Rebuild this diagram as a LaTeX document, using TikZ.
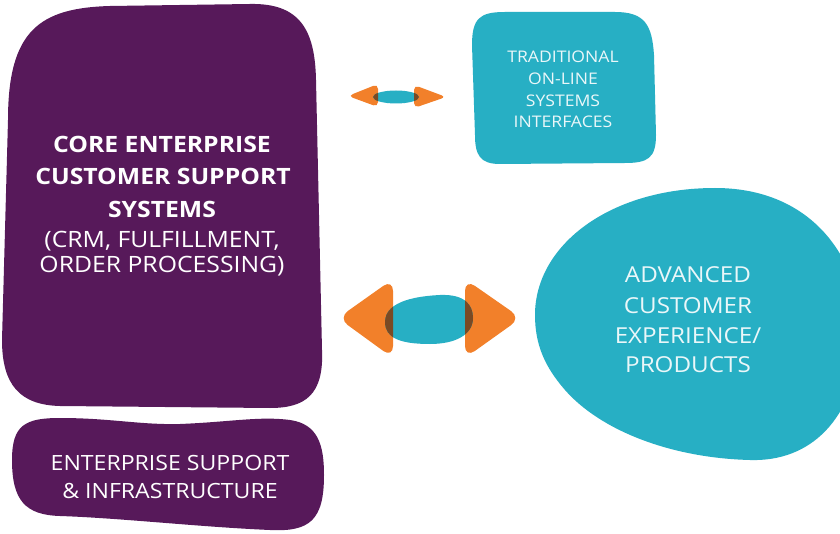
\documentclass[tikz,border=0pt]{standalone}
\usepackage{fontspec}
\setmainfont{Open Sans}[FakeStretch=1.1]
\definecolor{purp}{HTML}{57195A}
\definecolor{teal}{HTML}{27AFC4}
\definecolor{orng}{HTML}{F2802A}
\definecolor{brwn}{HTML}{7A4A24}
\definecolor{paletext}{HTML}{EAF7F9}
\tikzset{
  blobtext/.style={text=white, anchor=base, inner sep=0pt},
  tealtext/.style={text=paletext, anchor=base, inner sep=0pt},
  arrowhead/.style={fill=orng, rounded corners=#1},
}
\begin{document}
\begin{tikzpicture}[x=1pt,y=-1pt]
\useasboundingbox (0,0) rectangle (840,534);
\clip (0,0) rectangle (840,534);
\fill[white] (0,0) rectangle (840,534);

% core purple blob
\fill[purp] (8,120) .. controls (8,30) and (40,8) .. (110,6) -- (250,4)
  .. controls (300,3) and (315,30) .. (316,80) -- (322,350)
  .. controls (324,395) and (305,408) .. (270,408) -- (60,406)
  .. controls (20,405) and (2,385) .. (2,340) -- cycle;
\begin{scope}[font=\fontsize{22.5}{30}\selectfont]
\node[blobtext] (core1) at (162,153) {\textbf{CORE ENTERPRISE}};
\node[blobtext] (core2) at (163,185) {\textbf{CUSTOMER SUPPORT}};
\node[blobtext] (core3) at (162,218) {\textbf{SYSTEMS}};
\node[blobtext] (core4) at (162,248) {(CRM, FULFILLMENT,};
\node[blobtext] (core5) at (162,273) {ORDER PROCESSING)};
\end{scope}

% bottom purple blob
\fill[purp] (12,460) .. controls (12,425) and (25,418) .. (60,418)
  .. controls (110,418) and (140,425) .. (180,424)
  .. controls (230,422) and (260,416) .. (290,420)
  .. controls (318,424) and (324,445) .. (324,475)
  .. controls (324,520) and (310,532) .. (270,530)
  .. controls (200,527) and (120,518) .. (60,516)
  .. controls (25,515) and (12,500) .. (12,460) -- cycle;
\begin{scope}[font=\fontsize{21}{28}\selectfont]
\node[blobtext] (support1) at (170,470) {ENTERPRISE SUPPORT};
\node[blobtext] (support2) at (170,498) {\& INFRASTRUCTURE};
\end{scope}

% traditional teal box
\fill[teal] (472,45) .. controls (472,18) and (480,12) .. (505,12) -- (615,12)
  .. controls (645,12) and (652,25) .. (654,55) -- (656,135)
  .. controls (656,158) and (648,163) .. (625,163) -- (500,164)
  .. controls (480,164) and (475,155) .. (475,135) -- cycle;
\begin{scope}[font=\fontsize{16}{21.5}\selectfont]
\node[tealtext] (trad1) at (563,63) {TRADITIONAL};
\node[tealtext] (trad2) at (563,85) {ON-LINE};
\node[tealtext] (trad3) at (563,107) {SYSTEMS};
\node[tealtext] (trad4) at (563,128) {INTERFACES};
\end{scope}

% advanced teal blob
\fill[teal] (535,315) .. controls (535,245) and (610,188) .. (715,188)
  .. controls (820,188) and (865,270) .. (860,340)
  .. controls (855,420) and (810,462) .. (750,460)
  .. controls (670,458) and (600,430) .. (565,390)
  .. controls (545,367) and (535,345) .. (535,315) -- cycle;
\begin{scope}[font=\fontsize{22}{30}\selectfont]
\node[tealtext] (adv1) at (688,283) {ADVANCED};
\node[tealtext] (adv2) at (688,313) {CUSTOMER};
\node[tealtext] (adv3) at (688,343) {EXPERIENCE/};
\node[tealtext] (adv4) at (688,372) {PRODUCTS};
\end{scope}

% small double arrow
\fill[arrowhead=5] (348,96) -- (378,84) -- (378,107) -- cycle;
\fill[arrowhead=5] (446,97) -- (414,85) -- (414,108) -- cycle;
\fill[teal] (396,97) ellipse [x radius=23, y radius=6.5];
\begin{scope}
  \clip (348,96) -- (378,84) -- (378,107) -- cycle;
  \fill[brwn] (396,97) ellipse [x radius=23, y radius=6.5];
\end{scope}
\begin{scope}
  \clip (446,97) -- (414,85) -- (414,108) -- cycle;
  \fill[brwn] (396,97) ellipse [x radius=23, y radius=6.5];
\end{scope}

% big double arrow
\fill[arrowhead=12] (338,318) -- (393,279) -- (393,358) -- cycle;
\fill[arrowhead=12] (521,318) -- (465,279) -- (465,358) -- cycle;
\def\bigblob{(385,322) .. controls (385,300) and (420,296) .. (440,295)
  .. controls (465,294) and (473,305) .. (473,318)
  .. controls (473,335) and (455,344) .. (430,344)
  .. controls (400,344) and (385,338) .. (385,322) -- cycle}
\fill[teal] \bigblob;
\begin{scope}
  \clip (338,318) -- (393,279) -- (393,358) -- cycle;
  \fill[brwn] \bigblob;
\end{scope}
\begin{scope}
  \clip (521,318) -- (465,279) -- (465,358) -- cycle;
  \fill[brwn] \bigblob;
\end{scope}
\end{tikzpicture}
\end{document}
